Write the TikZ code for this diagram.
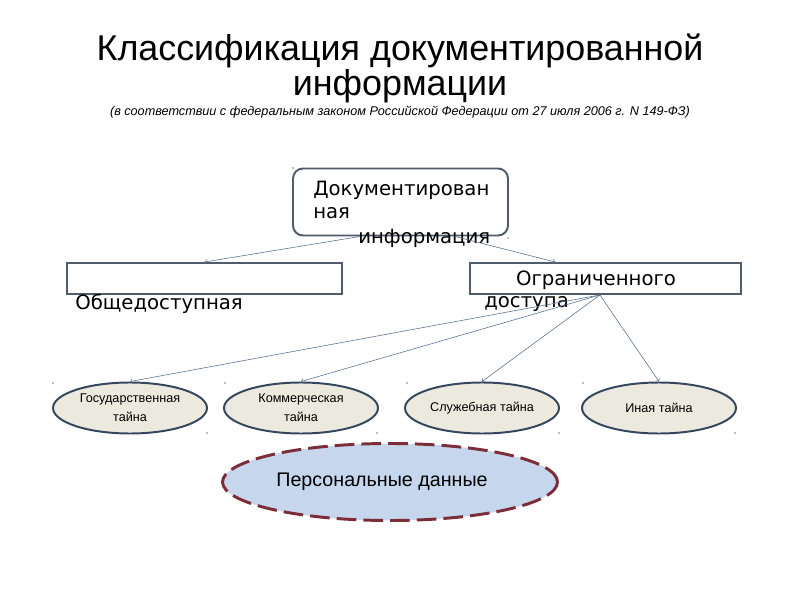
\documentclass[tikz,border=0pt]{standalone}
\usepackage{fontspec}
\setmainfont{Liberation Sans}
\newfontfamily\dejavu{DejaVu Sans}
\usetikzlibrary{shapes.geometric}

\definecolor{boxgray}{RGB}{80,92,105}
\definecolor{linkblue}{RGB}{85,110,145}
\definecolor{ellfill}{RGB}{236,234,222}
\definecolor{ellline}{RGB}{55,70,95}
\definecolor{persfill}{RGB}{198,214,236}
\definecolor{persline}{RGB}{125,45,55}

\begin{document}
\begin{tikzpicture}[
  framebox/.style={draw=boxgray, line width=1.4pt, fill=white, inner sep=0pt},
  boxtext/.style={inner sep=0pt, font=\dejavu\fontsize{14}{16}\selectfont},
  secret/.style={ellipse, draw=ellline, line width=1.4pt, fill=ellfill,
    minimum width=3.85cm, minimum height=1.275cm, inner sep=0pt,
    align=center, font=\fontsize{9}{13.5}\selectfont},
  link/.style={linkblue, thin, ->}
]
  \useasboundingbox (0,0) rectangle (20,15);

  % heading
  \node[align=center, font=\fontsize{25.5}{25}\selectfont] (title) at (10,13.3)
    {Классификация документированной\\информации};
  \node[font=\itshape\fontsize{9}{11}\selectfont] (law) at (10,12.2)
    {(в соответствии с федеральным законом Российской Федерации от 27 июля 2006 г. N 149-ФЗ)};

  % root box, its text runs past the frame
  \node[framebox, rounded corners=0.25cm, minimum width=5.375cm, minimum height=1.675cm]
    (doc) at (10.0125,9.95) {};
  \node[boxtext, anchor=west] (doc1) at (7.825,10.25) {Документирован};
  \node[boxtext, anchor=west] (doc2) at (7.825,9.675) {ная};
  \node[boxtext, anchor=west] (doc3) at (8.95,9.05) {информация};

  % first split
  \node[framebox, minimum width=6.875cm, minimum height=0.775cm] (pub) at (5.1125,8.0375) {};
  \node[boxtext, anchor=west] (publbl) at (1.875,7.4) {Общедоступная};
  \node[framebox, minimum width=6.775cm, minimum height=0.775cm] (rst) at (15.1375,8.0375) {};
  \node[boxtext] (rsttxt) at (14.9,7.99) {Ограниченного};
  \node[boxtext, anchor=west] (rstlbl) at (12.1,7.4) {доступа};

  \draw[link] ([xshift=-1.01cm]doc.south) -- (pub.north);
  \draw[link] ([xshift=1.36cm]doc.south) -- ([xshift=-1.26cm]rst.north);

  % kinds of restricted information
  \node[secret] (gos) at (3.25,4.8) {Государственная\\тайна};
  \node[secret] (com) at (7.525,4.8) {Коммерческая\\тайна};
  \node[secret] (srv) at (12.05,4.8) {Служебная тайна};
  \node[secret] (oth) at (16.475,4.8) {Иная тайна};

  \coordinate (hub) at ([xshift=-0.14cm]rst.south);
  \foreach \t in {gos,com,srv,oth}
    \draw[link] (hub) -- (\t.north);

  \node[ellipse, draw=persline, line width=2.1pt, dash pattern=on 14pt off 5pt,
    fill=persfill, minimum width=8.375cm, minimum height=1.925cm,
    font=\fontsize{14}{16}\selectfont] (pers) at (9.75,2.95) {\hspace*{-0.4cm}Персональные данные};

  % stray placeholder dots
  \foreach \p in {(1.325,5.425),(5.625,5.425),(10.175,5.425),(14.575,5.425),
                  (5.175,4.175),(9.425,4.175),(13.975,4.175),(18.375,4.175),
                  (7.325,10.8),(12.7,9.05)}
    \fill[gray!70] \p circle (0.03);

\end{tikzpicture}
\end{document}
